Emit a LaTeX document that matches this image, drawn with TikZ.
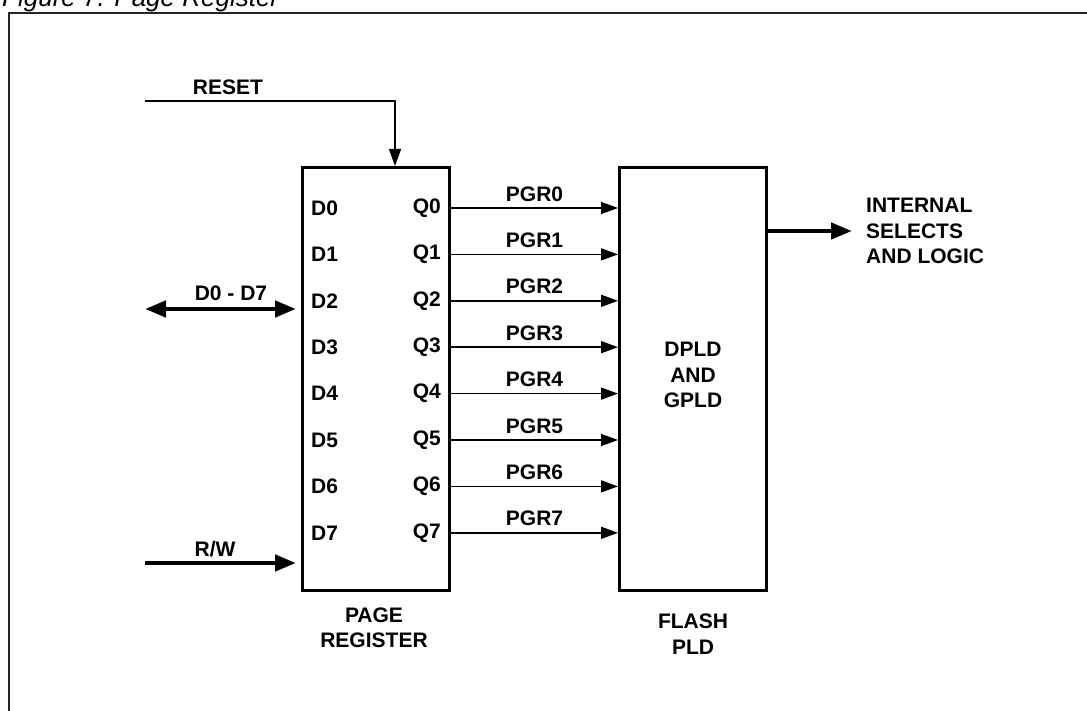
\documentclass[tikz,border=0pt]{standalone}
\usepackage{fontspec}
\setmainfont{Liberation Sans}
\usetikzlibrary{arrows.meta,calc}

\tikzset{
  blk/.style={draw, line width=3pt, minimum width=147pt, minimum height=423pt, inner sep=0pt},
  lbl/.style={font=\bfseries\fontsize{21}{25.5}\selectfont, inner sep=0pt, align=center},
  sig/.style={line width=1.5pt, -{Triangle[length=17pt,width=12pt]}},
  bus/.style={line width=4.5pt, -{Triangle[length=21pt,width=16pt]}},
}

\begin{document}
\begin{tikzpicture}[x=1pt,y=-1pt]
  \useasboundingbox (0,0) rectangle (1087,711);
  \clip (0,0) rectangle (1087,711);
  \node[font=\itshape\fontsize{26}{30}\selectfont, anchor=base west, inner sep=0pt] (cap) at (2,7) {Figure 7. Page Register};
  \draw[line width=1.5pt, black!85] (9,13) rectangle (1100,730);

  % blocks
  \node[blk] (preg) at (376,379) {};
  \node[blk] (flash) at (693,379) {};
  \node[lbl] (dgpld) at (693,375) {DPLD\\AND\\GPLD};
  \node[lbl] (pregname) at (374,628) {PAGE\\REGISTER};
  \node[lbl] (flashname) at (693,634) {FLASH\\PLD};

  % data and pgr lines
  \foreach \i in {0,...,7} {
    \coordinate (r\i) at (0,208+46.4*\i);
    \node[lbl, anchor=west] (d\i) at (311,208+46.4*\i) {D\i};
    \node[lbl, anchor=east] (q\i) at (441,208+46.4*\i) {Q\i};
    \draw[sig] (preg.east |- r\i) -- (flash.west |- r\i)
      node[lbl, midway, above=6pt] {PGR\i};
  }

  % inputs
  \coordinate (rst) at (145,101);
  \draw[sig] (rst) -| ($(preg.north)+(19,0)$);
  \node[lbl] (rstname) at (228,87) {RESET};

  \coordinate (dbus) at (145,309);
  \draw[bus, {Triangle[length=21pt,width=16pt]}-{Triangle[length=21pt,width=16pt]}, shorten >=5pt]
    (dbus) -- (dbus -| preg.west);
  \node[lbl] (dbusname) at (231,293) {D0 - D7};

  \coordinate (rw) at (145,563);
  \draw[bus, shorten >=5pt] (rw) -- (rw -| preg.west);
  \node[lbl] (rwname) at (215,549) {R/W};

  % output
  \coordinate (outp) at (852,231);
  \draw[bus] (flash.east |- outp) -- (outp);
  \node[lbl, anchor=west, align=left] (outname) at (866,231) {INTERNAL\\SELECTS\\AND LOGIC};
\end{tikzpicture}
\end{document}
